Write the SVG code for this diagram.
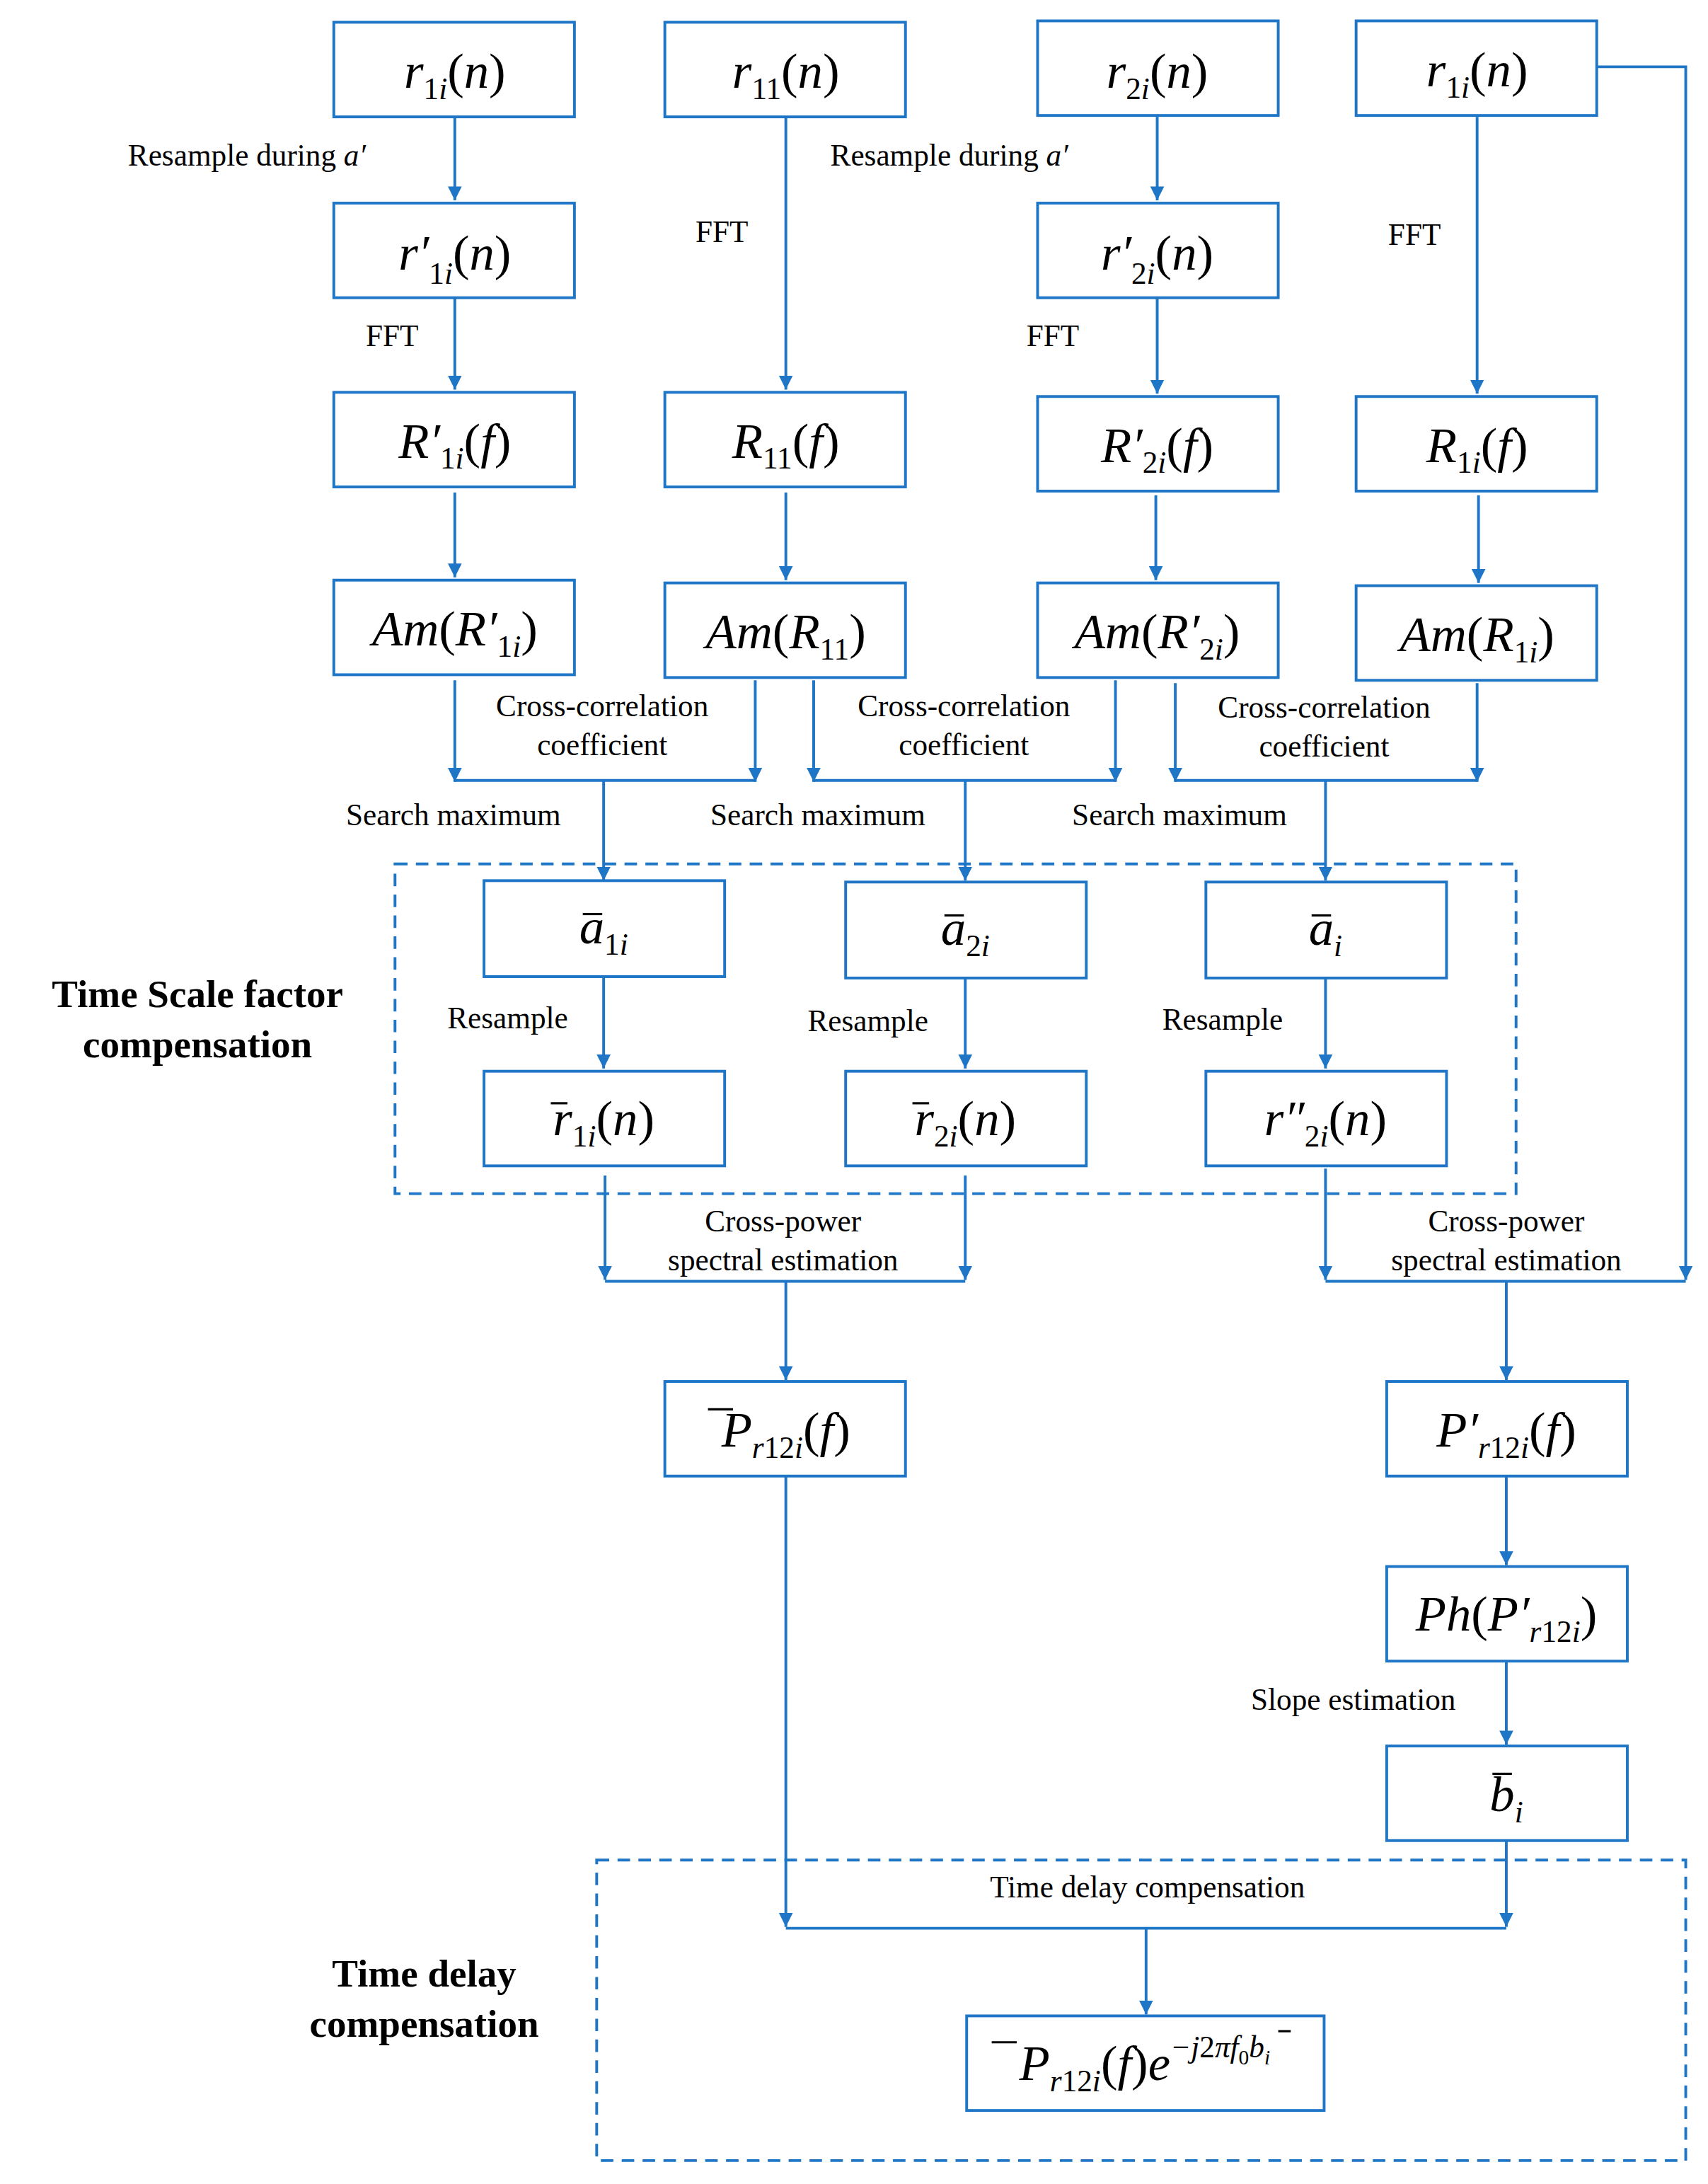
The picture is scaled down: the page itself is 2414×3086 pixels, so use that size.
<svg xmlns="http://www.w3.org/2000/svg" width="2414" height="3086" viewBox="0 0 2414 3086">
<style>
.b{fill:#fff;stroke:#1f76c6;stroke-width:2}
.c{fill:none;stroke:#1f76c6;stroke-width:2}
.d{fill:none;stroke:#1f76c6;stroke-width:2;stroke-dasharray:9,6}
.m{font-family:"Liberation Serif",serif;font-size:36px;font-style:italic;text-anchor:middle;fill:#000}
.s{font-size:22px}
.u{font-style:normal}
.l{font-family:"Liberation Serif",serif;font-size:22px;fill:#000}
.t{font-family:"Liberation Serif",serif;font-size:28px;font-weight:bold;text-anchor:middle;fill:#000}
.ov{stroke:#000;stroke-width:1.6}
</style>
<defs>
<marker id="ar" viewBox="0 0 10 10" refX="10" refY="5" markerWidth="5" markerHeight="9" markerUnits="strokeWidth" orient="auto"><path d="M0,0 L10,5 L0,10 Z" fill="#1f76c6"/></marker>
</defs>
<rect width="2414" height="3086" fill="#fff"/>
<g transform="scale(1.9658)">
<g id="connectors">
<path class="c" marker-end="url(#ar)" d="M327,84 V144"/>
<path class="c" marker-end="url(#ar)" d="M327,214 V280"/>
<path class="c" marker-end="url(#ar)" d="M327,354 V415"/>
<path class="c" marker-end="url(#ar)" d="M565,84 V280"/>
<path class="c" marker-end="url(#ar)" d="M565,354 V417"/>
<path class="c" marker-end="url(#ar)" d="M832,84 V144"/>
<path class="c" marker-end="url(#ar)" d="M832,214 V283"/>
<path class="c" marker-end="url(#ar)" d="M831,356 V417"/>
<path class="c" marker-end="url(#ar)" d="M1062,84 V283"/>
<path class="c" marker-end="url(#ar)" d="M1063,356 V419"/>
<path class="c" marker-end="url(#ar)" d="M327,489 V562"/>
<path class="c" marker-end="url(#ar)" d="M543,489 V562"/>
<path class="c" d="M327,561 H543"/>
<path class="c" marker-end="url(#ar)" d="M434,561 V633"/>
<path class="c" marker-end="url(#ar)" d="M585,489 V562"/>
<path class="c" marker-end="url(#ar)" d="M802,489 V562"/>
<path class="c" d="M585,561 H802"/>
<path class="c" marker-end="url(#ar)" d="M694,561 V633"/>
<path class="c" marker-end="url(#ar)" d="M845,491 V562"/>
<path class="c" marker-end="url(#ar)" d="M1062,491 V562"/>
<path class="c" d="M845,561 H1062"/>
<path class="c" marker-end="url(#ar)" d="M953,561 V633"/>
<path class="c" marker-end="url(#ar)" d="M434,703 V768"/>
<path class="c" marker-end="url(#ar)" d="M694,703 V768"/>
<path class="c" marker-end="url(#ar)" d="M953,703 V768"/>
<path class="c" marker-end="url(#ar)" d="M435,845 V920"/>
<path class="c" marker-end="url(#ar)" d="M694,845 V920"/>
<path class="c" d="M435,921 H694"/>
<path class="c" marker-end="url(#ar)" d="M565,921 V992"/>
<path class="c" marker-end="url(#ar)" d="M953,840 V920"/>
<path class="c" marker-end="url(#ar)" d="M1148,48 H1212 V920"/>
<path class="c" d="M953,921 H1212"/>
<path class="c" marker-end="url(#ar)" d="M1083,921 V992"/>
<path class="c" marker-end="url(#ar)" d="M1083,1061 V1125"/>
<path class="c" marker-end="url(#ar)" d="M1083,1194 V1254"/>
<path class="c" marker-end="url(#ar)" d="M565,1061 V1385"/>
<path class="c" marker-end="url(#ar)" d="M1083,1323 V1385"/>
<path class="c" d="M565,1386 H1083"/>
<path class="c" marker-end="url(#ar)" d="M824,1386 V1448"/>
</g>
<g id="groups">
<rect class="d" x="284" y="621" width="806" height="237"/>
<rect class="d" x="429" y="1337" width="783" height="216"/>
</g>
<g id="labels">
<text class="l" x="92" y="119">Resample during <tspan font-style="italic">a′</tspan></text>
<text class="l" x="597" y="119">Resample during <tspan font-style="italic">a′</tspan></text>
<text class="l" x="263" y="249">FFT</text>
<text class="l" x="500" y="174">FFT</text>
<text class="l" x="738" y="249">FFT</text>
<text class="l" x="998" y="176">FFT</text>
<text class="l" x="433" y="515" text-anchor="middle">Cross-correlation</text>
<text class="l" x="433" y="543" text-anchor="middle">coefficient</text>
<text class="l" x="693" y="515" text-anchor="middle">Cross-correlation</text>
<text class="l" x="693" y="543" text-anchor="middle">coefficient</text>
<text class="l" x="952" y="516" text-anchor="middle">Cross-correlation</text>
<text class="l" x="952" y="544" text-anchor="middle">coefficient</text>
<text class="l" x="326" y="593" text-anchor="middle">Search maximum</text>
<text class="l" x="588" y="593" text-anchor="middle">Search maximum</text>
<text class="l" x="848" y="593" text-anchor="middle">Search maximum</text>
<text class="l" x="365" y="739" text-anchor="middle">Resample</text>
<text class="l" x="624" y="741" text-anchor="middle">Resample</text>
<text class="l" x="879" y="740" text-anchor="middle">Resample</text>
<text class="t" x="142" y="724">Time Scale factor</text>
<text class="t" x="142" y="760">compensation</text>
<text class="l" x="563" y="885" text-anchor="middle">Cross-power</text>
<text class="l" x="563" y="913" text-anchor="middle">spectral estimation</text>
<text class="l" x="1083" y="885" text-anchor="middle">Cross-power</text>
<text class="l" x="1083" y="913" text-anchor="middle">spectral estimation</text>
<text class="l" x="973" y="1229" text-anchor="middle">Slope estimation</text>
<text class="l" x="825" y="1364" text-anchor="middle">Time delay compensation</text>
<text class="t" x="305" y="1428">Time delay</text>
<text class="t" x="305" y="1464">compensation</text>
</g>
<g id="n1"><rect class="b" x="240" y="16" width="173" height="68"/><text class="m" x="327" y="63">r<tspan class="s u" dy="8">1<tspan font-style="italic">i</tspan></tspan><tspan dy="-8" class="u">(</tspan>n<tspan class="u">)</tspan></text></g>
<g id="n2"><rect class="b" x="478" y="16" width="173" height="68"/><text class="m" x="565" y="63">r<tspan class="s u" dy="8">11</tspan><tspan dy="-8" class="u">(</tspan>n<tspan class="u">)</tspan></text></g>
<g id="n3"><rect class="b" x="746" y="15" width="173" height="68"/><text class="m" x="832" y="63">r<tspan class="s u" dy="8">2<tspan font-style="italic">i</tspan></tspan><tspan dy="-8" class="u">(</tspan>n<tspan class="u">)</tspan></text></g>
<g id="n4"><rect class="b" x="975" y="15" width="173" height="68"/><text class="m" x="1062" y="62">r<tspan class="s u" dy="8">1<tspan font-style="italic">i</tspan></tspan><tspan dy="-8" class="u">(</tspan>n<tspan class="u">)</tspan></text></g>
<g id="n5"><rect class="b" x="240" y="146" width="173" height="68"/><text class="m" x="327" y="194">r′<tspan class="s u" dy="10">1<tspan font-style="italic">i</tspan></tspan><tspan dy="-10" class="u">(</tspan>n<tspan class="u">)</tspan></text></g>
<g id="n6"><rect class="b" x="746" y="146" width="173" height="68"/><text class="m" x="832" y="194">r′<tspan class="s u" dy="10">2<tspan font-style="italic">i</tspan></tspan><tspan dy="-10" class="u">(</tspan>n<tspan class="u">)</tspan></text></g>
<g id="n7"><rect class="b" x="240" y="282" width="173" height="68"/><text class="m" x="327" y="329">R′<tspan class="s u" dy="8">1<tspan font-style="italic">i</tspan></tspan><tspan dy="-8" class="u">(</tspan>f<tspan class="u">)</tspan></text></g>
<g id="n8"><rect class="b" x="478" y="282" width="173" height="68"/><text class="m" x="565" y="329">R<tspan class="s u" dy="8">11</tspan><tspan dy="-8" class="u">(</tspan>f<tspan class="u">)</tspan></text></g>
<g id="n9"><rect class="b" x="746" y="285" width="173" height="68"/><text class="m" x="832" y="332">R′<tspan class="s u" dy="8">2<tspan font-style="italic">i</tspan></tspan><tspan dy="-8" class="u">(</tspan>f<tspan class="u">)</tspan></text></g>
<g id="n10"><rect class="b" x="975" y="285" width="173" height="68"/><text class="m" x="1062" y="332">R<tspan class="s u" dy="8">1<tspan font-style="italic">i</tspan></tspan><tspan dy="-8" class="u">(</tspan>f<tspan class="u">)</tspan></text></g>
<g id="n11"><rect class="b" x="240" y="417" width="173" height="68"/><text class="m" x="327" y="464">Am<tspan class="u">(</tspan>R′<tspan class="s u" dy="8">1<tspan font-style="italic">i</tspan></tspan><tspan dy="-8" class="u">)</tspan></text></g>
<g id="n12"><rect class="b" x="478" y="419" width="173" height="68"/><text class="m" x="565" y="466">Am<tspan class="u">(</tspan>R<tspan class="s u" dy="8">11</tspan><tspan dy="-8" class="u">)</tspan></text></g>
<g id="n13"><rect class="b" x="746" y="419" width="173" height="68"/><text class="m" x="832" y="466">Am<tspan class="u">(</tspan>R′<tspan class="s u" dy="8">2<tspan font-style="italic">i</tspan></tspan><tspan dy="-8" class="u">)</tspan></text></g>
<g id="n14"><rect class="b" x="975" y="421" width="173" height="68"/><text class="m" x="1062" y="468">Am<tspan class="u">(</tspan>R<tspan class="s u" dy="8">1<tspan font-style="italic">i</tspan></tspan><tspan dy="-8" class="u">)</tspan></text></g>
<g id="n15"><rect class="b" x="348" y="633" width="173" height="69"/><text class="m" x="434" y="678">a<tspan class="s u" dy="8">1<tspan font-style="italic">i</tspan></tspan></text><line class="ov" x1="419" y1="657" x2="433" y2="657"/></g>
<g id="n16"><rect class="b" x="608" y="634" width="173" height="69"/><text class="m" x="694" y="679">a<tspan class="s u" dy="8">2<tspan font-style="italic">i</tspan></tspan></text><line class="ov" x1="679" y1="658" x2="693" y2="658"/></g>
<g id="n17"><rect class="b" x="867" y="634" width="173" height="69"/><text class="m" x="953" y="679">a<tspan class="s" dy="8">i</tspan></text><line class="ov" x1="943" y1="658" x2="957" y2="658"/></g>
<g id="n18"><rect class="b" x="348" y="770" width="173" height="68"/><text class="m" x="434" y="816">r<tspan class="s u" dy="8">1<tspan font-style="italic">i</tspan></tspan><tspan dy="-8" class="u">(</tspan>n<tspan class="u">)</tspan></text><line class="ov" x1="396" y1="793" x2="408" y2="793"/></g>
<g id="n19"><rect class="b" x="608" y="770" width="173" height="68"/><text class="m" x="694" y="816">r<tspan class="s u" dy="8">2<tspan font-style="italic">i</tspan></tspan><tspan dy="-8" class="u">(</tspan>n<tspan class="u">)</tspan></text><line class="ov" x1="656" y1="793" x2="668" y2="793"/></g>
<g id="n20"><rect class="b" x="867" y="770" width="173" height="68"/><text class="m" x="953" y="816">r″<tspan class="s u" dy="8">2<tspan font-style="italic">i</tspan></tspan><tspan dy="-8" class="u">(</tspan>n<tspan class="u">)</tspan></text></g>
<g id="n21"><rect class="b" x="478" y="993" width="173" height="68"/><text class="m" x="565" y="1040">P<tspan class="s" dy="8">r<tspan class="u">12</tspan>i</tspan><tspan dy="-8" class="u">(</tspan>f<tspan class="u">)</tspan></text><line class="ov" x1="509" y1="1013" x2="527" y2="1013"/></g>
<g id="n22"><rect class="b" x="997" y="993" width="173" height="68"/><text class="m" x="1083" y="1040">P′<tspan class="s" dy="8">r<tspan class="u">12</tspan>i</tspan><tspan dy="-8" class="u">(</tspan>f<tspan class="u">)</tspan></text></g>
<g id="n23"><rect class="b" x="997" y="1126" width="173" height="68"/><text class="m" x="1083" y="1172">Ph<tspan class="u">(</tspan>P′<tspan class="s" dy="8">r<tspan class="u">12</tspan>i</tspan><tspan dy="-8" class="u">)</tspan></text></g>
<g id="n24"><rect class="b" x="997" y="1255" width="173" height="68"/><text class="m" x="1083" y="1302">b<tspan class="s" dy="8">i</tspan></text><line class="ov" x1="1073" y1="1275" x2="1087" y2="1275"/></g>
<g id="n25"><rect class="b" x="695" y="1449" width="257" height="68"/><text class="m" x="823" y="1495">P<tspan class="s" dy="8">r<tspan class="u">12</tspan>i</tspan><tspan dy="-8" class="u">(</tspan>f<tspan class="u">)</tspan>e<tspan class="s" dy="-16">−j<tspan class="u">2</tspan>πf<tspan font-size="15" dy="5" class="u">0</tspan><tspan dy="-5">b</tspan><tspan font-size="15" dy="5">i</tspan></tspan></text><line class="ov" x1="713" y1="1468" x2="731" y2="1468"/><line class="ov" x1="919" y1="1460" x2="928" y2="1460"/></g>
</g>
</svg>
